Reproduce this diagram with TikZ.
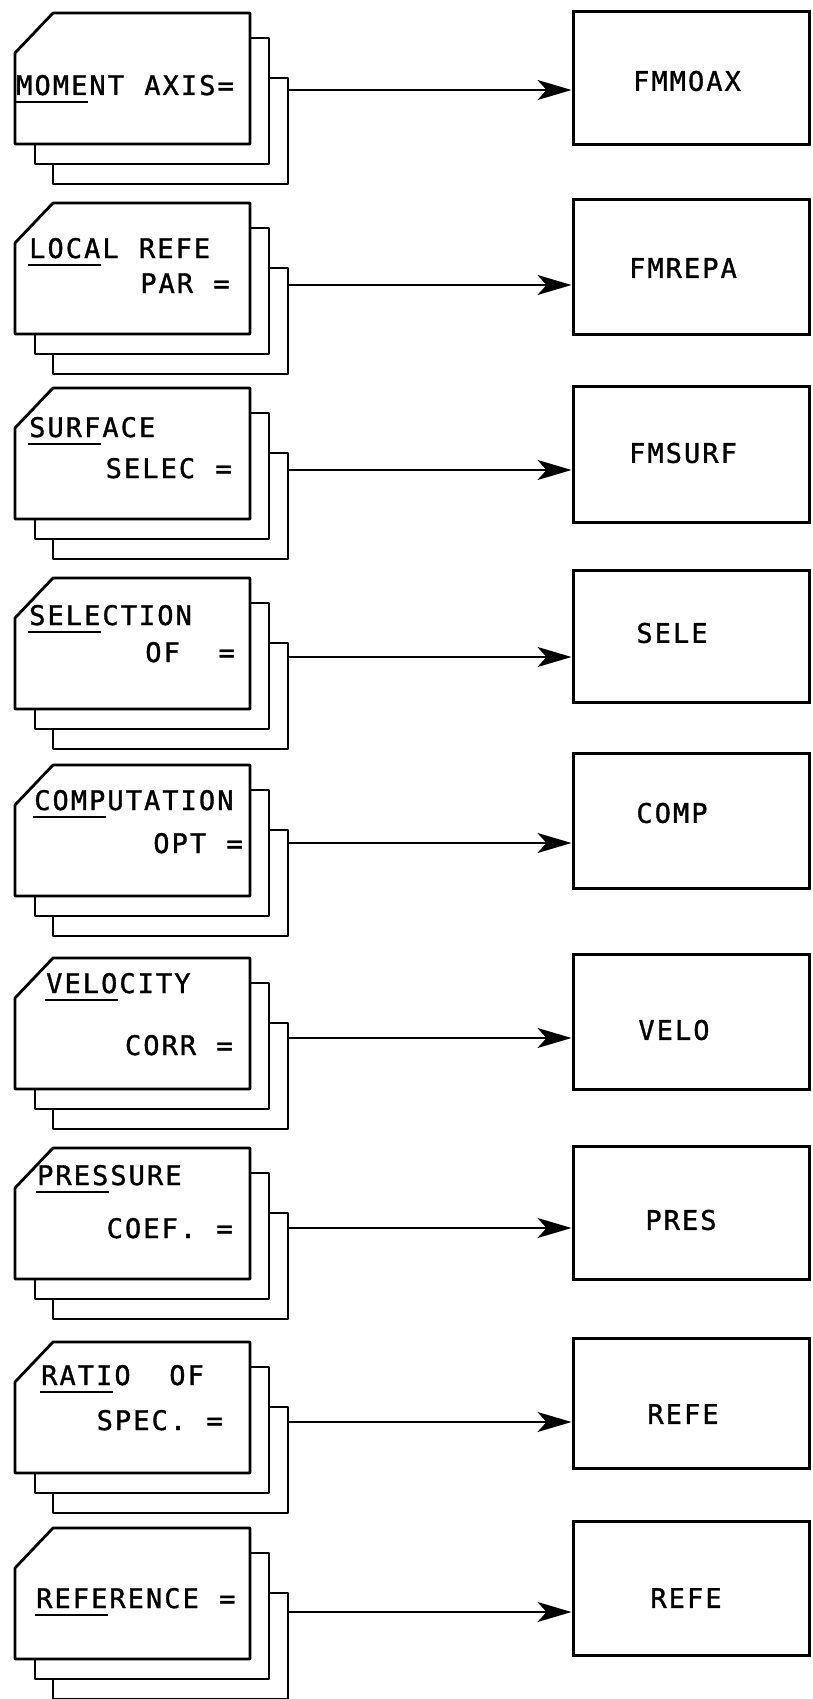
\documentclass[tikz,border=0pt]{standalone}
\usepackage{fontspec}
\newfontfamily\plotfont{DejaVu Sans Mono}[FakeBold=1.2]
\usetikzlibrary{arrows.meta}
\newlength\monopitch
\setlength\monopitch{18.3pt}
\ExplSyntaxOn
\NewDocumentCommand\mono{m}
 {
  \str_map_inline:nn {#1}
   {
    \str_if_eq:nnTF {##1} {_}
     { \hspace*{\monopitch} }
     { \makebox[\monopitch][c]{##1} }
   }
 }
\ExplSyntaxOff
\tikzset{
  card/.style={draw, fill=white, line width=2.8pt, line join=round},
  fbox/.style={draw, line width=3pt, minimum width=236pt, inner sep=0pt},
  txt/.style={inner sep=0pt, font=\plotfont\fontsize{27}{30}\selectfont},
  uline/.style={line width=2.6pt},
  conn/.style={line width=2.6pt, -{Stealth[length=34pt,width=20pt,inset=9pt]}}
}
% #1 top of front card, #2 y of connector, #3 name
\newcommand\cardstack[3]{%
  \draw[card] (53,#1+65) rectangle (288,#1+171);
  \draw[card] (35,#1+25) rectangle (269,#1+151);
  \draw[card] (15,#1+40) -- (53,#1) -- (250,#1) -- (250,#1+131) -- (15,#1+131) -- cycle;
  \coordinate (#3) at (288,#2);
}
\newcommand\ul[1]{\draw[uline] ([shift={(0,7)}]#1.base west) -- ++(73,0);}
\begin{document}
\begin{tikzpicture}[x=1pt,y=-1pt]
\useasboundingbox (0,0) rectangle (812,1699);
% card stacks
\cardstack{13}{90}{c1}
\cardstack{203}{285}{c2}
\cardstack{388}{470}{c3}
\cardstack{578}{657}{c4}
\cardstack{765}{843}{c5}
\cardstack{958}{1038}{c6}
\cardstack{1148}{1228}{c7}
\cardstack{1342}{1422}{c8}
\cardstack{1528}{1612}{c9}
% card texts
\node[txt, anchor=base west] (t1a) at (15,95) {\mono{MOMENT_AXIS=}};
\node[txt, anchor=base west] (t2a) at (28,258) {\mono{LOCAL_REFE}};
\node[txt, anchor=base east] (t2b) at (231,293) {\mono{PAR_=}};
\node[txt, anchor=base west] (t3a) at (28,437) {\mono{SURFACE}};
\node[txt, anchor=base east] (t3b) at (233,478) {\mono{SELEC_=}};
\node[txt, anchor=base west] (t4a) at (28,625) {\mono{SELECTION}};
\node[txt, anchor=base east] (t4b) at (236,662) {\mono{OF__=}};
\node[txt, anchor=base west] (t5a) at (33,810) {\mono{COMPUTATION}};
\node[txt, anchor=base east] (t5b) at (244,853) {\mono{OPT_=}};
\node[txt, anchor=base west] (t6a) at (45,993) {\mono{VELOCITY}};
\node[txt, anchor=base east] (t6b) at (234,1055) {\mono{CORR_=}};
\node[txt, anchor=base west] (t7a) at (36,1185) {\mono{PRESSURE}};
\node[txt, anchor=base east] (t7b) at (234,1238) {\mono{COEF._=}};
\node[txt, anchor=base west] (t8a) at (40,1385) {\mono{RATIO__OF}};
\node[txt, anchor=base east] (t8b) at (224,1430) {\mono{SPEC._=}};
\node[txt, anchor=base west] (t9a) at (35,1608) {\mono{REFERENCE_=}};
% underlines
\ul{t1a}\ul{t2a}\ul{t3a}\ul{t4a}\ul{t5a}\ul{t6a}\ul{t7a}\ul{t8a}\ul{t9a}
% boxes
\node[fbox, minimum height=133pt] (b1) at (691,78.5) {};
\node[fbox, minimum height=135pt] (b2) at (691,267) {};
\node[fbox, minimum height=136pt] (b3) at (691,454) {};
\node[fbox, minimum height=132pt] (b4) at (691,636) {};
\node[fbox, minimum height=135pt] (b5) at (691,820.5) {};
\node[fbox, minimum height=135pt] (b6) at (691,1021.5) {};
\node[fbox, minimum height=133pt] (b7) at (691,1212.5) {};
\node[fbox, minimum height=130pt] (b8) at (691,1403) {};
\node[fbox, minimum height=134pt] (b9) at (691,1588) {};
% box texts
\node[txt] (l1) at (687,81) {\mono{FMMOAX}};
\node[txt] (l2) at (683,268) {\mono{FMREPA}};
\node[txt] (l3) at (683,453) {\mono{FMSURF}};
\node[txt] (l4) at (672,633) {\mono{SELE}};
\node[txt] (l5) at (672,813) {\mono{COMP}};
\node[txt] (l6) at (674,1030) {\mono{VELO}};
\node[txt] (l7) at (681,1220) {\mono{PRES}};
\node[txt] (l8) at (683,1414) {\mono{REFE}};
\node[txt] (l9) at (686,1598) {\mono{REFE}};
% connectors
\foreach \i in {1,...,9} {
  \draw[conn] (c\i) -- (c\i -| b\i.west);
}
\end{tikzpicture}
\end{document}
